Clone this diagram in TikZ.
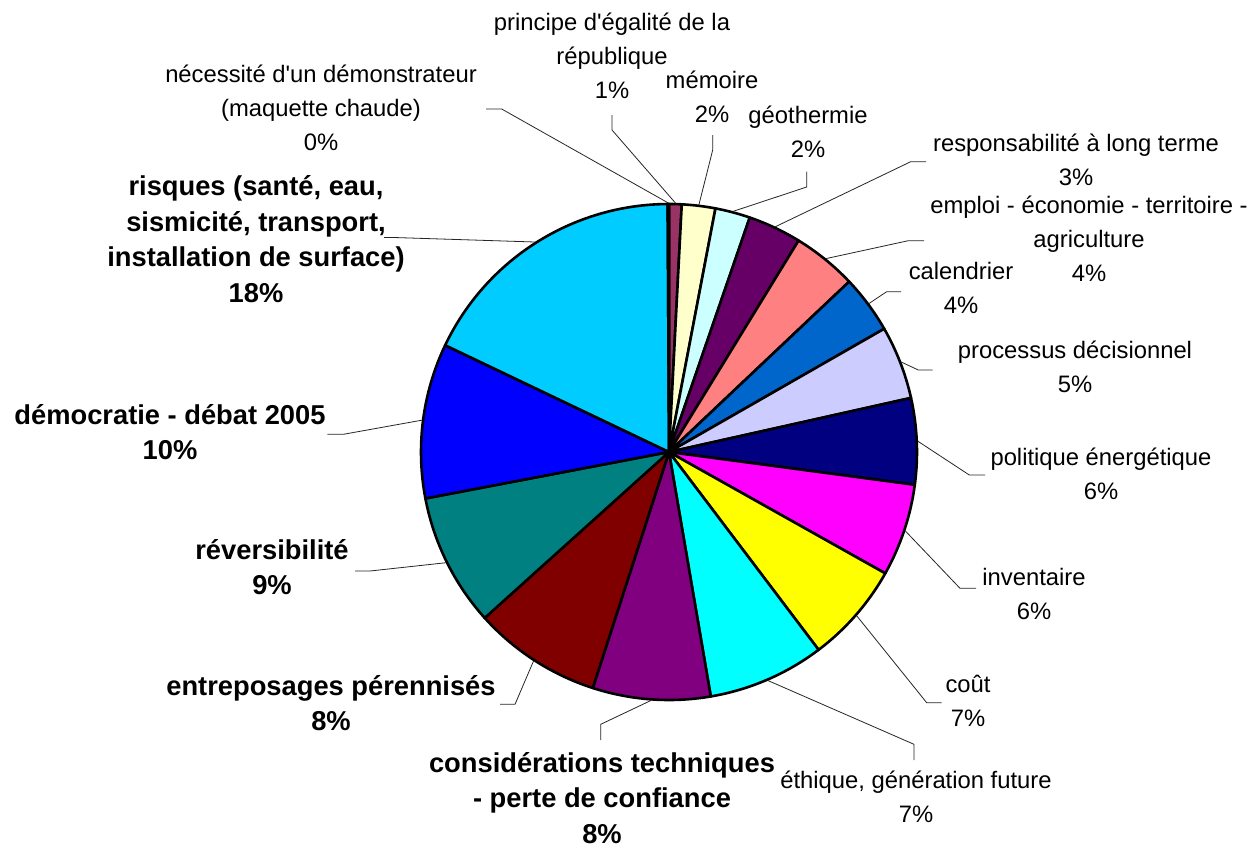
\documentclass[tikz,border=0pt]{standalone}
\usepackage{fontspec}
\setmainfont{Liberation Sans}
\definecolor{cPrin}{HTML}{993366}
\definecolor{cMem}{HTML}{FFFFCC}
\definecolor{cGeo}{HTML}{CCFFFF}
\definecolor{cResp}{HTML}{660066}
\definecolor{cEmp}{HTML}{FF8080}
\definecolor{cCal}{HTML}{0066CC}
\definecolor{cProc}{HTML}{CCCCFF}
\definecolor{cPol}{HTML}{000080}
\definecolor{cInv}{HTML}{FF00FF}
\definecolor{cCout}{HTML}{FFFF00}
\definecolor{cEth}{HTML}{00FFFF}
\definecolor{cCons}{HTML}{800080}
\definecolor{cEntr}{HTML}{800000}
\definecolor{cRev}{HTML}{008080}
\definecolor{cDem}{HTML}{0000FF}
\definecolor{cRisq}{HTML}{00CCFF}
\definecolor{cNec}{HTML}{9999FF}
\begin{document}
\begin{tikzpicture}[x=1pt,y=-1pt,
  lbl/.style={align=center, inner sep=0pt, font=\fontsize{23.8}{34}\selectfont},
  blbl/.style={align=center, inner sep=0pt, font=\fontsize{27.3}{35.5}\selectfont\bfseries},
  lead/.style={line width=0.8pt, draw=black!85},
  slice/.style={draw=black, line width=2.6pt, line join=round}]
\useasboundingbox[fill=white] (0,0) rectangle (1256,847);
\coordinate (O) at (669,452);
% slices: start angle, end angle (clockwise from top), colour
\foreach \a/\b/\col in {0/2.95/cPrin, 2.95/10.8/cMem, 10.8/19.0/cGeo, 19.0/31.5/cResp,
  31.5/46.6/cEmp, 46.6/60.2/cCal, 60.2/77.4/cProc, 77.4/97.6/cPol, 97.6/119.3/cInv,
  119.3/142.9/cCout, 142.9/170.3/cEth, 170.3/197.9/cCons, 197.9/228/cEntr,
  228/259.2/cRev, 259.2/295.5/cDem, 295.5/359.7/cRisq, 359.7/360/cNec}
  \filldraw[slice, fill=\col] (O) -- ++(\a-90:248) arc[start angle=\a-90, end angle=\b-90, radius=248] -- cycle;
% anchor points on the pie
\path (O) ++(1.5-90:249) coordinate (aPrin);
\path (O) ++(359.85-90:249) coordinate (aNec);
\path (O) ++(6.9-90:249) coordinate (aMem);
\path (O) ++(14.9-90:249) coordinate (aGeo);
\path (O) ++(25.25-90:249) coordinate (aResp);
\path (O) ++(39.05-90:249) coordinate (aEmp);
\path (O) ++(53.4-90:249) coordinate (aCal);
\path (O) ++(68.8-90:249) coordinate (aProc);
\path (O) ++(87.5-90:249) coordinate (aPol);
\path (O) ++(108.45-90:249) coordinate (aInv);
\path (O) ++(131.1-90:249) coordinate (aCout);
\path (O) ++(156.6-90:249) coordinate (aEth);
\path (O) ++(184.1-90:249) coordinate (aCons);
\path (O) ++(212.95-90:249) coordinate (aEntr);
\path (O) ++(243.6-90:249) coordinate (aRev);
\path (O) ++(277.35-90:249) coordinate (aDem);
\path (O) ++(327.5-90:249) coordinate (aRisq);
% labels
\node[lbl] (lPrin) at (612,56) {principe d\textquotesingle égalité de la\\république\\1\%};
\node[lbl] (lNec) at (321,108) {nécessité d\textquotesingle un démonstrateur\\(maquette chaude)\\0\%};
\node[lbl] (lMem) at (712,96.5) {mémoire\\2\%};
\node[lbl] (lGeo) at (808,131.5) {géothermie\\2\%};
\node[lbl] (lResp) at (1076,160) {responsabilité à long terme\\3\%};
\node[lbl] (lEmp) at (1089,239) {emploi - économie - territoire -\\agriculture\\4\%};
\node[lbl] (lCal) at (961,288) {calendrier\\4\%};
\node[lbl] (lProc) at (1075,367) {processus décisionnel\\5\%};
\node[lbl] (lPol) at (1101,473.5) {politique énergétique\\6\%};
\node[lbl] (lInv) at (1034,594) {inventaire\\6\%};
\node[lbl] (lCout) at (968,701) {coût\\7\%};
\node[lbl] (lEth) at (916,797) {éthique, génération future\\7\%};
\node[blbl] (lCons) at (602,798) {considérations techniques\\- perte de confiance\\8\%};
\node[blbl] (lEntr) at (331,703) {entreposages pérennisés\\8\%};
\node[blbl] (lRev) at (272,567) {réversibilité\\9\%};
\node[blbl] (lDem) at (170,432) {démocratie - débat 2005\\10\%};
\node[blbl] (lRisq) at (256,239) {risques (santé, eau,\\sismicité, transport,\\installation de surface)\\18\%};
% leader line points
\coordinate (tPrin) at (612,115);   \coordinate (kPrin) at (612,130);
\coordinate (tNec) at (486,109);    \coordinate (kNec) at (501.7,109);
\coordinate (tMem) at (712.7,135);  \coordinate (kMem) at (712.7,150);
\coordinate (tGeo) at (806.7,171.7);\coordinate (kGeo) at (806.7,187);
\coordinate (tResp) at (926,161.7); \coordinate (kResp) at (910.7,161.7);
\coordinate (tEmp) at (924,240.7);  \coordinate (kEmp) at (908.3,240.7);
\coordinate (tCal) at (901,291.7);  \coordinate (kCal) at (886.7,291.7);
\coordinate (tProc) at (932.7,370); \coordinate (kProc) at (918.3,370);
\coordinate (tPol) at (985,475);    \coordinate (kPol) at (969.3,475);
\coordinate (tInv) at (976,588.3);  \coordinate (kInv) at (960,588.3);
\coordinate (tCout) at (941.7,702.7);\coordinate (kCout) at (926.7,702.7);
\coordinate (tEth) at (914,760);    \coordinate (kEth) at (914,744.3);
\coordinate (tCons) at (600.7,740); \coordinate (kCons) at (600.7,724.3);
\coordinate (tEntr) at (500,704.3); \coordinate (kEntr) at (515,704.3);
\coordinate (tRev) at (355,571);    \coordinate (kRev) at (370,571);
\coordinate (tDem) at (327.3,434.3);\coordinate (kDem) at (343.3,434.3);
\coordinate (tRisq) at (384,237.5); \coordinate (kRisq) at (394,237.5);
\foreach \n in {Prin,Nec,Mem,Geo,Resp,Emp,Cal,Proc,Pol,Inv,Cout,Eth,Cons,Entr,Rev,Dem,Risq}
  \draw[lead] (t\n) -- (k\n) -- (a\n);
\end{tikzpicture}
\end{document}
